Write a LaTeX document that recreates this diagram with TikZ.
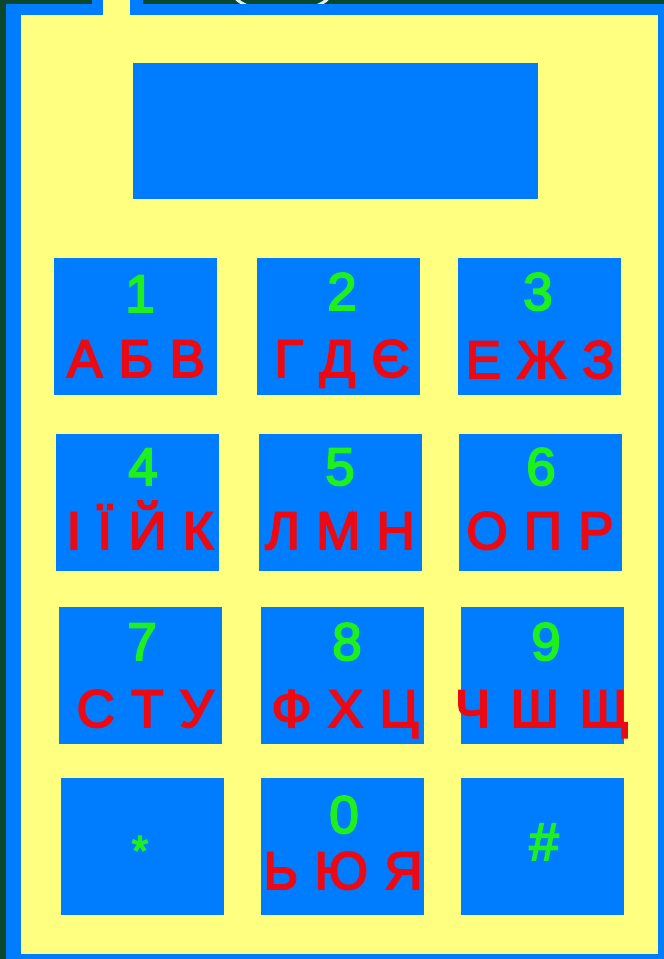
\documentclass[tikz,border=0pt]{standalone}
\usepackage{fontspec}
\setmainfont{Liberation Sans}
\newfontfamily\keyfont[FakeBold=3.5, WordSpace=1.1]{Liberation Sans}
\usepackage{xcolor}
\usepackage{tikz}
\usetikzlibrary{positioning}
\definecolor{bggreen}{RGB}{10,72,46}
\definecolor{phoneblue}{RGB}{0,125,255}
\definecolor{phoneyellow}{RGB}{255,255,128}
\definecolor{digitgreen}{RGB}{30,240,30}
\definecolor{letterred}{RGB}{235,10,20}

\begin{document}
\begin{tikzpicture}[x=1pt, y=-1pt,
    key/.style={rectangle, fill=phoneblue, inner sep=0pt, minimum width=163pt, minimum height=137pt},
    screen/.style={rectangle, fill=phoneblue, inner sep=0pt, minimum width=405pt, minimum height=136pt},
    digit/.style={anchor=base, inner sep=0pt, text=digitgreen, font=\keyfont\fontsize{53}{60}\selectfont},
    letters/.style={anchor=base, inner sep=0pt, text=letterred, font=\keyfont\fontsize{53}{60}\selectfont}
]
    \useasboundingbox (0,0) rectangle (664,959);
    \fill[bggreen] (0,0) rectangle (664,959);
    \draw[white!85!gray, line width=3pt] (282,-10) ellipse (50 and 22);

    \fill[phoneblue] (6,4) rectangle (664,959);
    \fill[phoneblue] (92,0) rectangle (143,4);
    \fill[phoneyellow] (21,15) rectangle (658,954);
    \fill[phoneyellow] (103,0) rectangle (130,15);

    \node[screen] (display) at (335.5,131) {};

    \node[key] (k1) at (135.5,326.5) {};
    \node[key] (k2) at (338.5,326.5) {};
    \node[key] (k3) at (539,326.5) {};
    \node[key] (k4) at (137.5,502) {};
    \node[key] (k5) at (340.5,502) {};
    \node[key] (k6) at (540.5,502) {};
    \node[key] (k7) at (140,675.5) {};
    \node[key] (k8) at (342.5,675.5) {};
    \node[key] (k9) at (542.5,675) {};
    \node[key] (kstar) at (142.5,846.5) {};
    \node[key] (k0) at (342.5,846.5) {};
    \node[key] (khash) at (542.5,846.5) {};

    \node[digit] (d1) at (140,312) {1};
    \node[letters] (l1) at (136,377) {А Б В};
    \node[digit] (d2) at (342,310) {2};
    \node[letters] (l2) at (342,377) {Г Д Є};
    \node[digit] (d3) at (538,310) {3};
    \node[letters] (l3) at (540,378) {Е Ж З};
    \node[digit] (d4) at (143,485) {4};
    \node[letters] (l4) at (140,549) {І Ї Й К};
    \node[digit] (d5) at (340,485) {5};
    \node[letters] (l5) at (340,549) {Л М Н};
    \node[digit] (d6) at (541,485) {6};
    \node[letters] (l6) at (540,549) {О П Р};
    \node[digit] (d7) at (142,660) {7};
    \node[letters] (l7) at (145,727) {С Т У};
    \node[digit] (d8) at (347,660) {8};
    \node[letters] (l8) at (345,727) {Ф Х Ц};
    \node[digit] (d9) at (546,660) {9};
    \node[letters] (l9) at (542,727) {Ч\hspace{4pt} Ш\hspace{4pt} Щ};
    \node[digit, font=\keyfont\fontsize{42}{48}\selectfont] (dstar) at (140,865) {*};
    \node[digit] (d0) at (344,833) {0};
    \node[letters] (l0) at (343,889) {Ь Ю Я};
    \node[digit] (dhash) at (544,860) {\#};
\end{tikzpicture}
\end{document}
